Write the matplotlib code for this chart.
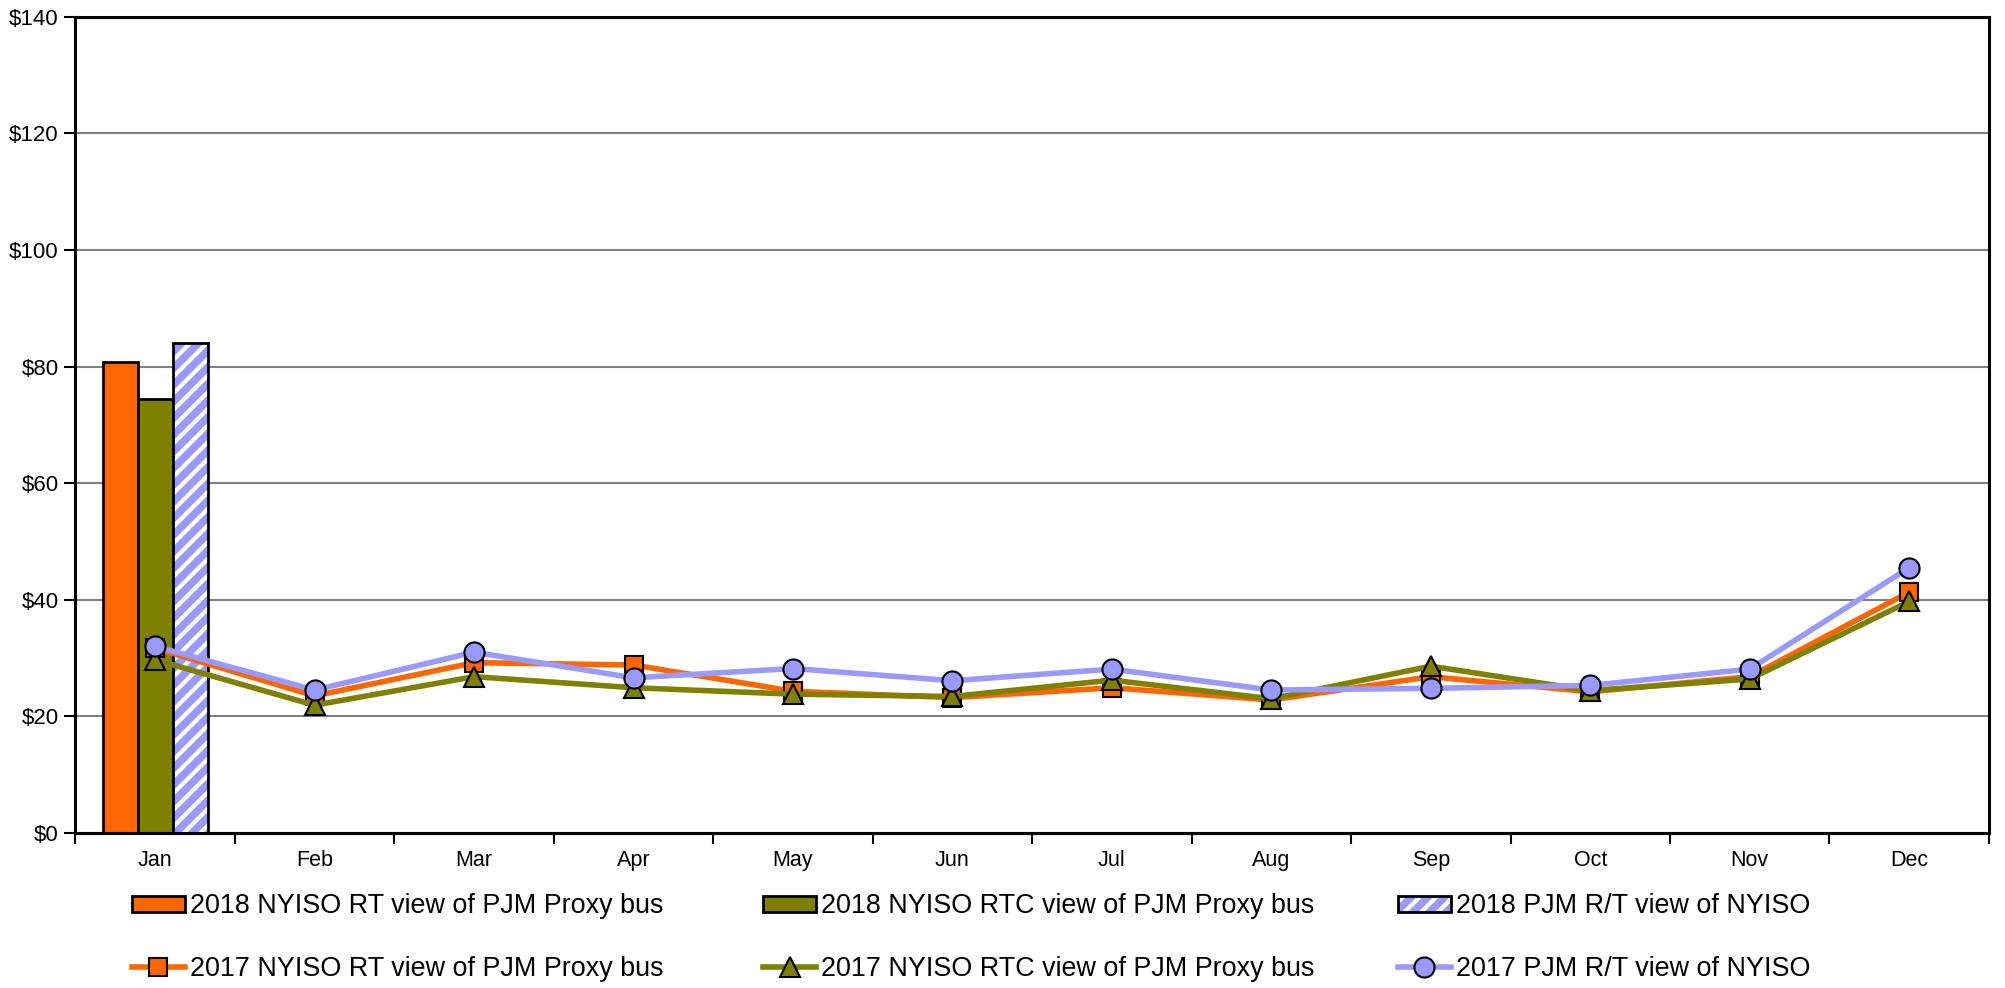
import matplotlib
matplotlib.use("Agg")
import matplotlib.pyplot as plt
import numpy as np
from matplotlib.patches import Rectangle
from matplotlib.lines import Line2D
from matplotlib.legend_handler import HandlerTuple

months = ["Jan", "Feb", "Mar", "Apr", "May", "Jun", "Jul", "Aug", "Sep", "Oct", "Nov", "Dec"]

# 2018 bars (only January)
bar_2018_nyiso_rt = [80.7]
bar_2018_nyiso_rtc = [74.5]
bar_2018_pjm_rt = [84.0]

# 2017 lines
line_2017_nyiso_rt = [31.7, 23.5, 29.2, 28.8, 24.3, 23.2, 24.9, 22.8, 26.8, 24.2, 26.8, 41.3]
line_2017_nyiso_rtc = [29.7, 21.9, 26.8, 24.9, 23.8, 23.4, 26.2, 23.0, 28.6, 24.4, 26.4, 39.7]
line_2017_pjm_rt = [32.0, 24.5, 31.0, 26.6, 28.2, 26.1, 28.1, 24.5, 24.8, 25.3, 28.1, 45.5]

label_b1 = "2018 NYISO RT view of PJM Proxy bus"
label_b2 = "2018 NYISO RTC view of PJM Proxy bus"
label_b3 = "2018 PJM R/T view of NYISO"
label_l1 = "2017 NYISO RT view of PJM Proxy bus"
label_l2 = "2017 NYISO RTC view of PJM Proxy bus"
label_l3 = "2017 PJM R/T view of NYISO"

ORANGE = "#FF6600"
OLIVE = "#808000"
LAV = "#9999FF"

plt.rcParams['font.family'] = ['Liberation Sans', 'DejaVu Sans']
plt.rcParams['hatch.linewidth'] = 3.0

fig = plt.figure(figsize=(20.06, 9.88), dpi=100)
ax = fig.add_axes([0.0376, 0.157, 0.9539, 0.826])

x = np.arange(len(months))
w = 0.22
nb = len(bar_2018_nyiso_rt)
xb = x[:nb]
ax.bar(xb - w, bar_2018_nyiso_rt, width=w, color=ORANGE, edgecolor="black", linewidth=2, zorder=2)
ax.bar(xb, bar_2018_nyiso_rtc, width=w, color=OLIVE, edgecolor="black", linewidth=2, zorder=2)
ax.bar(xb + w, bar_2018_pjm_rt, width=w, color=LAV, edgecolor="white", linewidth=0, hatch="//", zorder=2)
ax.bar(xb + w, bar_2018_pjm_rt, width=w, fill=False, edgecolor="black", linewidth=2, zorder=2)

lw = 4.0
ms = 14.5
ax.plot(x, line_2017_nyiso_rt, color=ORANGE, lw=lw, marker="s", ms=ms-1.5, mfc=ORANGE, mec="black", mew=1.5, zorder=3)
ax.plot(x, line_2017_nyiso_rtc, color=OLIVE, lw=lw, marker="^", ms=ms, mfc=OLIVE, mec="black", mew=1.5, zorder=4)
ax.plot(x, line_2017_pjm_rt, color=LAV, lw=lw, marker="o", ms=ms, mfc=LAV, mec="black", mew=1.5, zorder=5)

ax.set_xlim(-0.5, len(months) - 0.5)
ax.set_ylim(0, 140)
ax.set_yticks(np.arange(0, 141, 20))
ax.set_yticklabels([f"${v}" for v in range(0, 141, 20)], fontsize=16)
ax.yaxis.grid(True, color="#808080", lw=1.5, zorder=0)
ax.set_axisbelow(True)

ax.set_xticks(np.arange(-0.5, len(months), 1.0))
ax.set_xticklabels([])
ax.set_xticks(x, minor=True)
ax.set_xticklabels(months, minor=True, fontsize=15.5)
ax.tick_params(axis="x", which="minor", length=0, pad=12)
ax.tick_params(axis="x", which="major", length=8, width=1.5, direction="out")
ax.tick_params(axis="y", length=8, width=1.5, direction="out", pad=4)
for s in ax.spines.values():
    s.set_linewidth(2.2)

col_handles = [
    [Rectangle((0, 0), 1, 1, facecolor=ORANGE, edgecolor="black", linewidth=2),
     Line2D([], [], color=ORANGE, lw=lw, marker="s", ms=ms-1.5, mfc=ORANGE, mec="black", mew=1.5)],
    [Rectangle((0, 0), 1, 1, facecolor=OLIVE, edgecolor="black", linewidth=2),
     Line2D([], [], color=OLIVE, lw=lw, marker="^", ms=ms, mfc=OLIVE, mec="black", mew=1.5)],
    [(Rectangle((0, 0), 1, 1, facecolor=LAV, edgecolor="white", linewidth=0, hatch="//"),
      Rectangle((0, 0), 1, 1, fill=False, edgecolor="black", linewidth=2)),
     Line2D([], [], color=LAV, lw=lw, marker="o", ms=ms, mfc=LAV, mec="black", mew=1.5)],
]
col_labels = [[label_b1, label_l1], [label_b2, label_l2], [label_b3, label_l3]]
col_x = [0.0658, 0.3804, 0.6969]
for hs, ls, cx in zip(col_handles, col_labels, col_x):
    leg = fig.legend(hs, ls, ncol=1, loc="center left", bbox_to_anchor=(cx, 0.051),
                     frameon=False, fontsize=19.35, handlelength=1.97, handleheight=0.52,
                     handletextpad=0.2, labelspacing=1.35, borderpad=0, borderaxespad=0,
                     handler_map={tuple: HandlerTuple(ndivide=1)})

fig.savefig("out.png", dpi=100)
